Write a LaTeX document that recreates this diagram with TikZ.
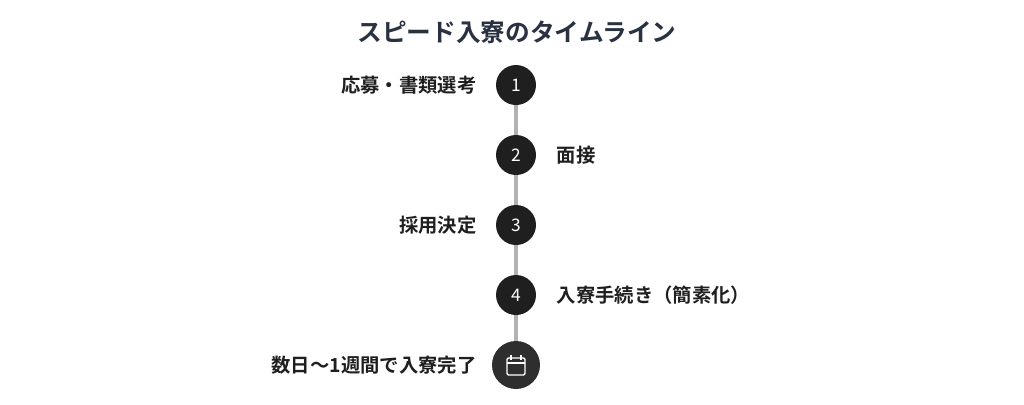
\documentclass[tikz,border=0pt]{standalone}
\usepackage{fontspec}
\setmainfont{Noto Sans CJK JP}[BoldFont={Noto Sans CJK JP Bold}]
\usetikzlibrary{positioning}
\definecolor{ink}{HTML}{1F1F1F}
\definecolor{titleink}{HTML}{2A3242}
\tikzset{
  stepdot/.style={circle, fill=ink, minimum size=30pt, inner sep=0pt, text=white, font=\fontsize{13}{13}\selectfont},
  steplabel/.style={font=\bfseries\fontsize{14.5}{14.5}\selectfont, text=ink},
  spine/.style={line width=3pt, draw=black!30}
}
\begin{document}
\begin{tikzpicture}[x=0.75pt, y=-0.75pt]
  \useasboundingbox (0,0) rectangle (1024,404);

  % Title
  \node[font=\bfseries\fontsize{18.5}{18.5}\selectfont, text=titleink] (title) at (517,32) {スピード入寮のタイムライン};

  % Spine
  \coordinate (top) at (516,85);
  \coordinate (bottom) at (516,365);
  \draw[spine] (top) -- (bottom);

  % Steps
  \node[stepdot] (s1) at (516,85) {1};
  \node[stepdot] (s2) at (516,155) {2};
  \node[stepdot] (s3) at (516,225) {3};
  \node[stepdot] (s4) at (516,295) {4};
  \node[circle, fill=black!82, minimum size=36pt, inner sep=0pt] (s5) at (516,365) {};

  % Calendar icon
  \draw[white, line width=1pt, rounded corners=1pt] (507,358) rectangle (525,375);
  \draw[white, line width=1pt] (507,363) -- (525,363);
  \draw[white, line width=1pt] (511,355) -- (511,360);
  \draw[white, line width=1pt] (521,355) -- (521,360);

  % Labels
  \node[steplabel, left=11pt of s1] (l1) {応募・書類選考};
  \node[steplabel, right=12pt of s2] (l2) {面接};
  \node[steplabel, left=11pt of s3] (l3) {採用決定};
  \node[steplabel, right=12pt of s4] (l4) {入寮手続き（簡素化）};
  \node[steplabel, left=8pt of s5] (l5) {数日〜1週間で入寮完了};
\end{tikzpicture}
\end{document}
